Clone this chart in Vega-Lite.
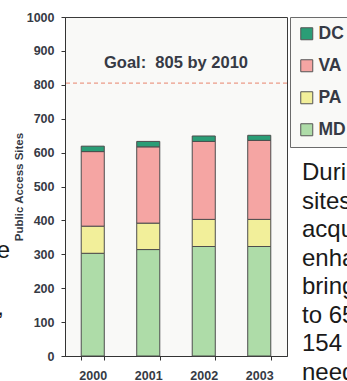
{
  "$schema": "https://vega.github.io/schema/vega-lite/v6.json",
  "width": 222,
  "height": 339,
  "autosize": {"type": "none"},
  "padding": {"left": 65, "top": 17, "right": 60, "bottom": 25},
  "background": "white",
  "config": {
    "font": "Liberation Sans",
    "view": {"fill": "#F9F9F7", "stroke": "#3a3a3a", "strokeWidth": 1},
    "axisY": {
      "tickCount": 10,
      "format": "d",
      "labelOverlap": false,
      "labelFlush": false,
      "grid": false,
      "titleFontSize": 11.5,
      "titleFontWeight": "bold",
      "titleColor": "#363a45",
      "titlePadding": 2,
      "labelFontSize": 12.5,
      "labelFontWeight": "bold",
      "labelColor": "#363a45",
      "labelPadding": 7,
      "tickSize": 4,
      "tickColor": "#333333",
      "domainColor": "#333333"
    },
    "axisX": {
      "labelAngle": 0,
      "labelFontSize": 12.5,
      "labelFontWeight": "bold",
      "labelColor": "#363a45",
      "labelPadding": 9,
      "tickSize": 4,
      "tickBand": "extent",
      "tickColor": "#333333",
      "domainColor": "#333333"
    }
  },
  "datasets": {
    "sites": [
      {"year": "2000", "state": "MD", "rank": 1, "count": 303},
      {"year": "2000", "state": "PA", "rank": 2, "count": 80},
      {"year": "2000", "state": "VA", "rank": 3, "count": 220},
      {"year": "2000", "state": "DC", "rank": 4, "count": 16},
      {"year": "2001", "state": "MD", "rank": 1, "count": 314},
      {"year": "2001", "state": "PA", "rank": 2, "count": 78},
      {"year": "2001", "state": "VA", "rank": 3, "count": 225},
      {"year": "2001", "state": "DC", "rank": 4, "count": 16},
      {"year": "2002", "state": "MD", "rank": 1, "count": 323},
      {"year": "2002", "state": "PA", "rank": 2, "count": 80},
      {"year": "2002", "state": "VA", "rank": 3, "count": 230},
      {"year": "2002", "state": "DC", "rank": 4, "count": 16},
      {"year": "2003", "state": "MD", "rank": 1, "count": 323},
      {"year": "2003", "state": "PA", "rank": 2, "count": 80},
      {"year": "2003", "state": "VA", "rank": 3, "count": 233},
      {"year": "2003", "state": "DC", "rank": 4, "count": 15}
    ],
    "goal": [{"target": 805, "label": "Goal:\u00a0 805 by 2010"}]
  },
  "layer": [
    {
      "data": {"name": "sites"},
      "mark": {"type": "bar", "stroke": "#4d4d4d", "strokeWidth": 1},
      "encoding": {
        "x": {
          "field": "year",
          "type": "ordinal",
          "title": null,
          "scale": {"paddingInner": 0.585, "paddingOuter": 0.2925}
        },
        "y": {
          "field": "count",
          "type": "quantitative",
          "stack": "zero",
          "title": "Public Access Sites",
          "scale": {"domain": [0, 1000], "nice": false}
        },
        "order": {"field": "rank", "type": "quantitative"},
        "color": {
          "field": "state",
          "type": "nominal",
          "sort": ["DC", "VA", "PA", "MD"],
          "scale": {"range": ["#2A9D76", "#F5A5A3", "#F2EF9A", "#AEDCA8"]},
          "legend": {
            "orient": "none",
            "legendX": 225,
            "legendY": 0,
            "title": null,
            "padding": 8,
            "strokeColor": "#6b6b6b",
            "fillColor": "#F9F9F7",
            "symbolType": "square",
            "symbolSize": 144,
            "symbolStrokeColor": "#555555",
            "symbolStrokeWidth": 1,
            "symbolOpacity": 1,
            "labelFontSize": 17.5,
            "labelFontWeight": "bold",
            "labelColor": "#363a45",
            "labelOffset": 3,
            "rowPadding": 13
          }
        }
      }
    },
    {
      "data": {"name": "goal"},
      "mark": {"type": "rule", "color": "#E8846C", "strokeDash": [4, 3], "strokeWidth": 1},
      "encoding": {"y": {"field": "target", "type": "quantitative", "title": "Public Access Sites"}}
    },
    {
      "data": {"name": "goal"},
      "mark": {
        "type": "text",
        "fontSize": 16.5,
        "fontWeight": "bold",
        "color": "#363a45",
        "baseline": "middle",
        "align": "center",
        "x": {"expr": "width / 2"}
      },
      "encoding": {
        "text": {"field": "label"},
        "y": {"datum": 863, "title": "Public Access Sites"}
      }
    },
    {
      "data": {"values": [{}]},
      "mark": {
        "type": "text",
        "align": "left",
        "baseline": "alphabetic",
        "fontSize": 24,
        "lineHeight": 28.5,
        "color": "#1a1a1a",
        "x": "width",
        "dx": 15
      },
      "encoding": {
        "text": {"value": ["During 2003, new", "sites were", "acquired or", "enhanced,", "bringing the total", "to 651 sites;", "154 more are", "needed by 2010."]},
        "y": {"datum": 519, "title": "Public Access Sites"}
      }
    },
    {
      "data": {"values": [{}]},
      "mark": {"type": "text", "align": "right", "baseline": "alphabetic", "fontSize": 24, "color": "#1a1a1a", "x": -55},
      "encoding": {
        "text": {"value": "along the Chesapeake"},
        "y": {"datum": 289, "title": "Public Access Sites"}
      }
    },
    {
      "data": {"values": [{}]},
      "mark": {"type": "text", "align": "right", "baseline": "alphabetic", "fontSize": 24, "color": "#1a1a1a", "x": -61},
      "encoding": {
        "text": {"value": "its rivers and streams,"},
        "y": {"datum": 121, "title": "Public Access Sites"}
      }
    }
  ]
}
